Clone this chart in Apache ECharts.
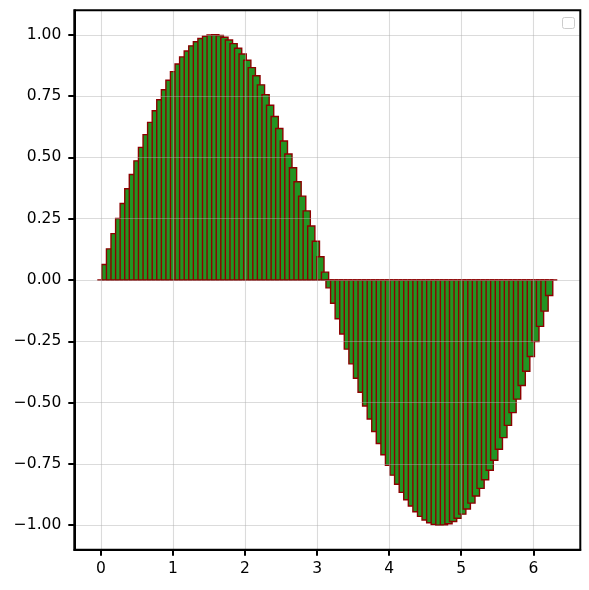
<!DOCTYPE html>
<html>
<head>
<meta charset="utf-8">
<script src="https://cdn.jsdelivr.net/npm/echarts@6/dist/echarts.min.js"></script>
<style>
html,body{margin:0;padding:0;background:#fff;}
#chart{width:589px;height:590px;}
</style>
</head>
<body>
<div id="chart"></div>
<script>
const xValues = [0.000,0.063,0.127,0.190,0.254,0.317,0.381,0.444,0.508,0.571,
0.635,0.698,0.762,0.825,0.889,0.952,1.015,1.079,1.142,1.206,
1.269,1.333,1.396,1.460,1.523,1.587,1.650,1.714,1.777,1.841,
1.904,1.967,2.031,2.094,2.158,2.221,2.285,2.348,2.412,2.475,
2.539,2.602,2.666,2.729,2.793,2.856,2.919,2.983,3.046,3.110,
3.173,3.237,3.300,3.364,3.427,3.491,3.554,3.618,3.681,3.745,
3.808,3.871,3.935,3.998,4.062,4.125,4.189,4.252,4.316,4.379,
4.443,4.506,4.570,4.633,4.697,4.760,4.823,4.887,4.950,5.014,
5.077,5.141,5.204,5.268,5.331,5.395,5.458,5.522,5.585,5.648,
5.712,5.775,5.839,5.902,5.966,6.029,6.093,6.156,6.220,6.283];

const yValues = [0.000,0.063,0.127,0.189,0.251,0.312,0.372,0.430,0.486,0.541,
0.593,0.643,0.690,0.735,0.776,0.815,0.850,0.881,0.910,0.934,
0.955,0.972,0.985,0.994,0.999,1.000,0.997,0.990,0.979,0.964,
0.945,0.922,0.896,0.866,0.833,0.796,0.756,0.713,0.667,0.618,
0.567,0.514,0.458,0.401,0.342,0.282,0.220,0.158,0.095,0.032,
-0.032,-0.095,-0.158,-0.220,-0.282,-0.342,-0.401,-0.458,-0.514,-0.567,
-0.618,-0.667,-0.713,-0.756,-0.796,-0.833,-0.866,-0.896,-0.922,-0.945,
-0.964,-0.979,-0.990,-0.997,-1.000,-0.999,-0.994,-0.985,-0.972,-0.955,
-0.934,-0.910,-0.881,-0.850,-0.815,-0.776,-0.735,-0.690,-0.643,-0.593,
-0.541,-0.486,-0.430,-0.372,-0.312,-0.251,-0.189,-0.127,-0.063,0.000];

const xTicks = [0, 1, 2, 3, 4, 5, 6];
const yTicks = [-1, -0.75, -0.5, -0.25, 0, 0.25, 0.5, 0.75, 1];
const BAR_WIDTH = 0.1; // data units

const data = xValues.map((x, i) => [x, yValues[i]]);

const chart = echarts.init(document.getElementById('chart'), null, {renderer: 'canvas'});
const font = 'DejaVu Sans';
const gridLine = {show: true, lineStyle: {color: 'rgba(176,176,176,0.45)', width: 1.1}};

chart.setOption({
  animation: false,
  backgroundColor: '#ffffff',
  grid: {left: 74.3, right: 8.7, top: 10.3, bottom: 40.3, show: true,
         borderColor: '#000', borderWidth: 2, backgroundColor: 'transparent', z: 6},
  xAxis: {
    type: 'value', min: -0.369, max: 6.652, z: 5,
    axisLine: {show: true, onZero: false, lineStyle: {color: '#000', width: 2}},
    axisTick: {show: true, customValues: xTicks, length: 6, inside: false, lineStyle: {color: '#000', width: 2}},
    axisLabel: {customValues: xTicks, color: '#000', fontFamily: font, fontSize: 15.5, margin: 11,
                formatter: v => String(v)},
    splitLine: gridLine
  },
  yAxis: {
    type: 'value', min: -1.1, max: 1.1, z: 5,
    axisLine: {show: true, onZero: false, lineStyle: {color: '#000', width: 2}},
    axisTick: {show: true, customValues: yTicks, length: 6, inside: false, lineStyle: {color: '#000', width: 2}},
    axisLabel: {customValues: yTicks, color: '#000', fontFamily: font, fontSize: 15.5, margin: 13,
                formatter: v => v.toFixed(2).replace('-', '\u2212')},
    splitLine: gridLine
  },
  graphic: [{
    type: 'rect', left: 562, top: 17, z: 10,
    shape: {width: 12, height: 11, r: 2},
    style: {fill: '#fff', stroke: '#cccccc', lineWidth: 1}
  }],
  series: [{
    type: 'custom', z: 1,
    data: data,
    renderItem: function (params, api) {
      const x = api.value(0), y = api.value(1);
      const a = api.coord([x - BAR_WIDTH / 2, y]);
      const b = api.coord([x + BAR_WIDTH / 2, 0]);
      return {
        type: 'rect',
        shape: {x: a[0], y: Math.min(a[1], b[1]), width: b[0] - a[0], height: Math.abs(b[1] - a[1])},
        style: {fill: 'rgb(34,148,34)', stroke: 'rgb(140,0,0)', lineWidth: 1.4}
      };
    }
  }]
});
</script>
</body>
</html>
